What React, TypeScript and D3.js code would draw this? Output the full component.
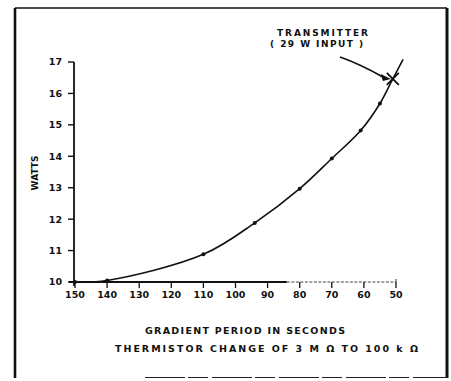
import React from "react";
import * as d3 from "d3";

const periods = [150, 140, 110, 94, 80, 70, 61, 55];
const watts = [10.0, 10.05, 10.88, 11.88, 12.97, 13.93, 14.82, 15.68];
const transmitterPeriod = [51];
const transmitterWatts = [16.46];
const curveEndPeriod = [47.8];
const curveEndWatts = [17.08];
const xTicks = [150, 140, 130, 120, 110, 100, 90, 80, 70, 60, 50];
const yTicks = [10, 11, 12, 13, 14, 15, 16, 17];

const W = 451;
const H = 381;
const FONT = "'DejaVu Sans', 'Liberation Sans', sans-serif";

export default function App() {
  const x = d3.scaleLinear().domain([150, 50]).range([75, 396]);
  const y = d3.scaleLinear().domain([10, 17]).range([282, 62]);

  const curvePts: [number, number][] = [
    ...periods.map((p, i) => [p, watts[i]] as [number, number]),
    [transmitterPeriod[0], transmitterWatts[0]],
    [curveEndPeriod[0], curveEndWatts[0]],
  ];
  const line = d3
    .line<[number, number]>()
    .x((d) => x(d[0]))
    .y((d) => y(d[1]))
    .curve(d3.curveCatmullRom.alpha(0.5));

  const tx = x(transmitterPeriod[0]);
  const ty = y(transmitterWatts[0]);
  const axY = y(10);
  const axX = x(150);
  const dashStart = x(84);

  return (
    <div style={{ position: "absolute", left: 0, top: 0 }}>
      <svg width={W} height={H} style={{ display: "block", background: "#fff" }}>
        <rect x={0} y={0} width={W} height={H} fill="#fff" />
        {/* frame */}
        <line x1={15} y1={8} x2={447} y2={8} stroke="#111" strokeWidth={1.6} />
        <line x1={15} y1={8} x2={15} y2={378} stroke="#111" strokeWidth={2.6} />
        <line x1={447} y1={8} x2={447} y2={378} stroke="#111" strokeWidth={3} />
        <line x1={145} y1={377.5} x2={447} y2={377.5} stroke="#222" strokeWidth={1} strokeDasharray="40 3 20 4" />

        {/* y axis */}
        <line x1={axX - 1} y1={axY + 4} x2={axX - 1} y2={y(17)} stroke="#111" strokeWidth={1.8} />
        {yTicks.map((t) => (
          <g key={"y" + t}>
            <line x1={axX - 7} x2={axX - 1} y1={y(t)} y2={y(t)} stroke="#111" strokeWidth={1.4} />
            <text
              x={62}
              y={y(t) + 3.4}
              textAnchor="end"
              fontFamily={FONT}
              fontWeight="bold"
              fontSize={9.5}
              fill="#111"
            >
              {t}
            </text>
          </g>
        ))}
        <text
          transform={`translate(38, 173) rotate(-90)`}
          textAnchor="middle"
          fontFamily={FONT}
          fontWeight="bold"
          fontSize={9}
          fill="#111"
        >
          WATTS
        </text>

        {/* x axis */}
        <line x1={axX - 6} y1={axY} x2={dashStart} y2={axY} stroke="#111" strokeWidth={1.8} />
        <line x1={dashStart} y1={axY} x2={x(50)} y2={axY} stroke="#444" strokeWidth={1.1} strokeDasharray="3 1.5" />
        <line x1={x(50)} y1={axY} x2={x(50)} y2={axY - 3} stroke="#444" strokeWidth={1.1} />
        {xTicks.map((t) => (
          <g key={"x" + t}>
            <line x1={x(t)} x2={x(t)} y1={axY} y2={axY + 6} stroke="#111" strokeWidth={1.3} />
            <text
              x={x(t)}
              y={298}
              textAnchor="middle"
              fontFamily={FONT}
              fontWeight="bold"
              fontSize={9.5}
              fill="#111"
            >
              {t}
            </text>
          </g>
        ))}
        <text x={145} y={333.5} textLength={200} lengthAdjust="spacing" fontFamily={FONT} fontWeight="bold" fontSize={9.5} fill="#111">
          GRADIENT PERIOD IN SECONDS
        </text>
        <text x={115} y={351.5} textLength={303} lengthAdjust="spacing" fontFamily={FONT} fontWeight="bold" fontSize={9.5} fill="#111">
          THERMISTOR CHANGE OF 3 M Ω TO 100 k Ω
        </text>

        {/* curve */}
        <path d={line(curvePts) || ""} fill="none" stroke="#111" strokeWidth={1.6} />
        {periods.map((p, i) => (
          <circle key={"p" + i} cx={x(p)} cy={y(watts[i])} r={2} fill="#111" />
        ))}

        {/* transmitter marker */}
        <line x1={tx - 6} y1={ty - 6} x2={tx + 6} y2={ty + 6} stroke="#111" strokeWidth={1.8} />
        <line x1={tx - 6} y1={ty + 6} x2={tx + 6} y2={ty - 6} stroke="#111" strokeWidth={1.8} />

        {/* annotation */}
        <text x={277} y={35.5} textLength={91} lengthAdjust="spacing" fontFamily={FONT} fontWeight="bold" fontSize={9} fill="#111">
          TRANSMITTER
        </text>
        <text x={270} y={47} textLength={93} lengthAdjust="spacing" fontFamily={FONT} fontWeight="bold" fontSize={9} fill="#111">
          ( 29 W INPUT )
        </text>
        <path d={`M 340 57 Q 360 64 ${tx - 9} ${ty - 1.5}`} fill="none" stroke="#111" strokeWidth={1.8} />
        <polygon
          points={`${tx - 2},${ty} ${tx - 12},${ty - 5} ${tx - 10},${ty + 2}`}
          fill="#111"
        />
      </svg>
    </div>
  );
}
